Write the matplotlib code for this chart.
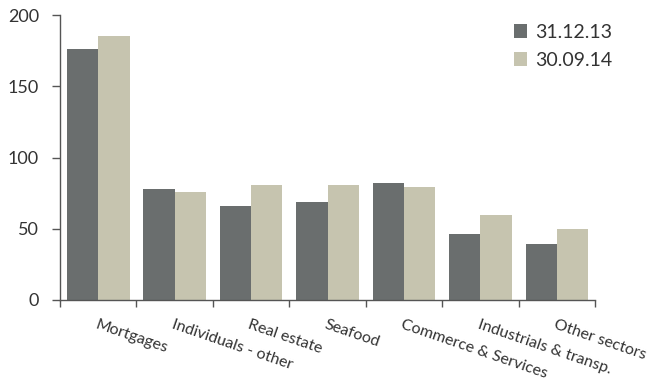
import matplotlib.pyplot as plt
import numpy as np

categories = ["Mortgages", "Individuals - other", "Real estate", "Seafood",
              "Commerce & Services", "Industrials & transp.", "Other sectors"]
dec_2013 = [176, 78, 66, 69, 82, 46, 39]
sep_2014 = [185, 76, 81, 81, 79, 60, 50]
series_labels = ["31.12.13", "30.09.14"]
y_ticks = [0, 50, 100, 150, 200]

dark = "#6a6e6e"
light = "#c6c4af"
axis_color = "#555555"
text_color = "#333333"

plt.rcParams["font.family"] = ["Lato", "DejaVu Sans"]

fig = plt.figure(figsize=(6.59, 3.81), dpi=100)
ax = fig.add_axes([0.091, 0.2126, 0.812, 0.748])

x = np.arange(len(categories))
w = 0.41
ax.bar(x - w / 2, dec_2013, width=w, color=dark, label=series_labels[0])
ax.bar(x + w / 2, sep_2014, width=w, color=light, label=series_labels[1])

ax.set_xlim(-0.5, len(categories) - 0.5)
ax.set_ylim(0, 200)
ax.set_yticks(y_ticks)
ax.tick_params(axis="y", length=6, width=1, color=axis_color, pad=9,
               labelsize=13, labelcolor=text_color)

# category labels sit at the centres, ticks mark the boundaries
ax.set_xticks(x)
ax.set_xticklabels(categories, rotation=-19, ha="left", va="top",
                   rotation_mode="anchor", fontsize=11.5, color=text_color)
ax.tick_params(axis="x", which="major", length=0, pad=13)
ax.set_xticks(np.arange(len(categories) + 1) - 0.5, minor=True)
ax.tick_params(axis="x", which="minor", length=5, width=1, color=axis_color)

for side in ["top", "right"]:
    ax.spines[side].set_visible(False)
for side in ["left", "bottom"]:
    ax.spines[side].set_color(axis_color)
    ax.spines[side].set_linewidth(1)

ax.legend(loc="upper left", bbox_to_anchor=(0.815, 1.03), frameon=False,
          fontsize=14, handlelength=0.7, handleheight=0.7, handletextpad=0.4,
          labelspacing=0.55, labelcolor=text_color)

fig.savefig("out.png", dpi=100)
